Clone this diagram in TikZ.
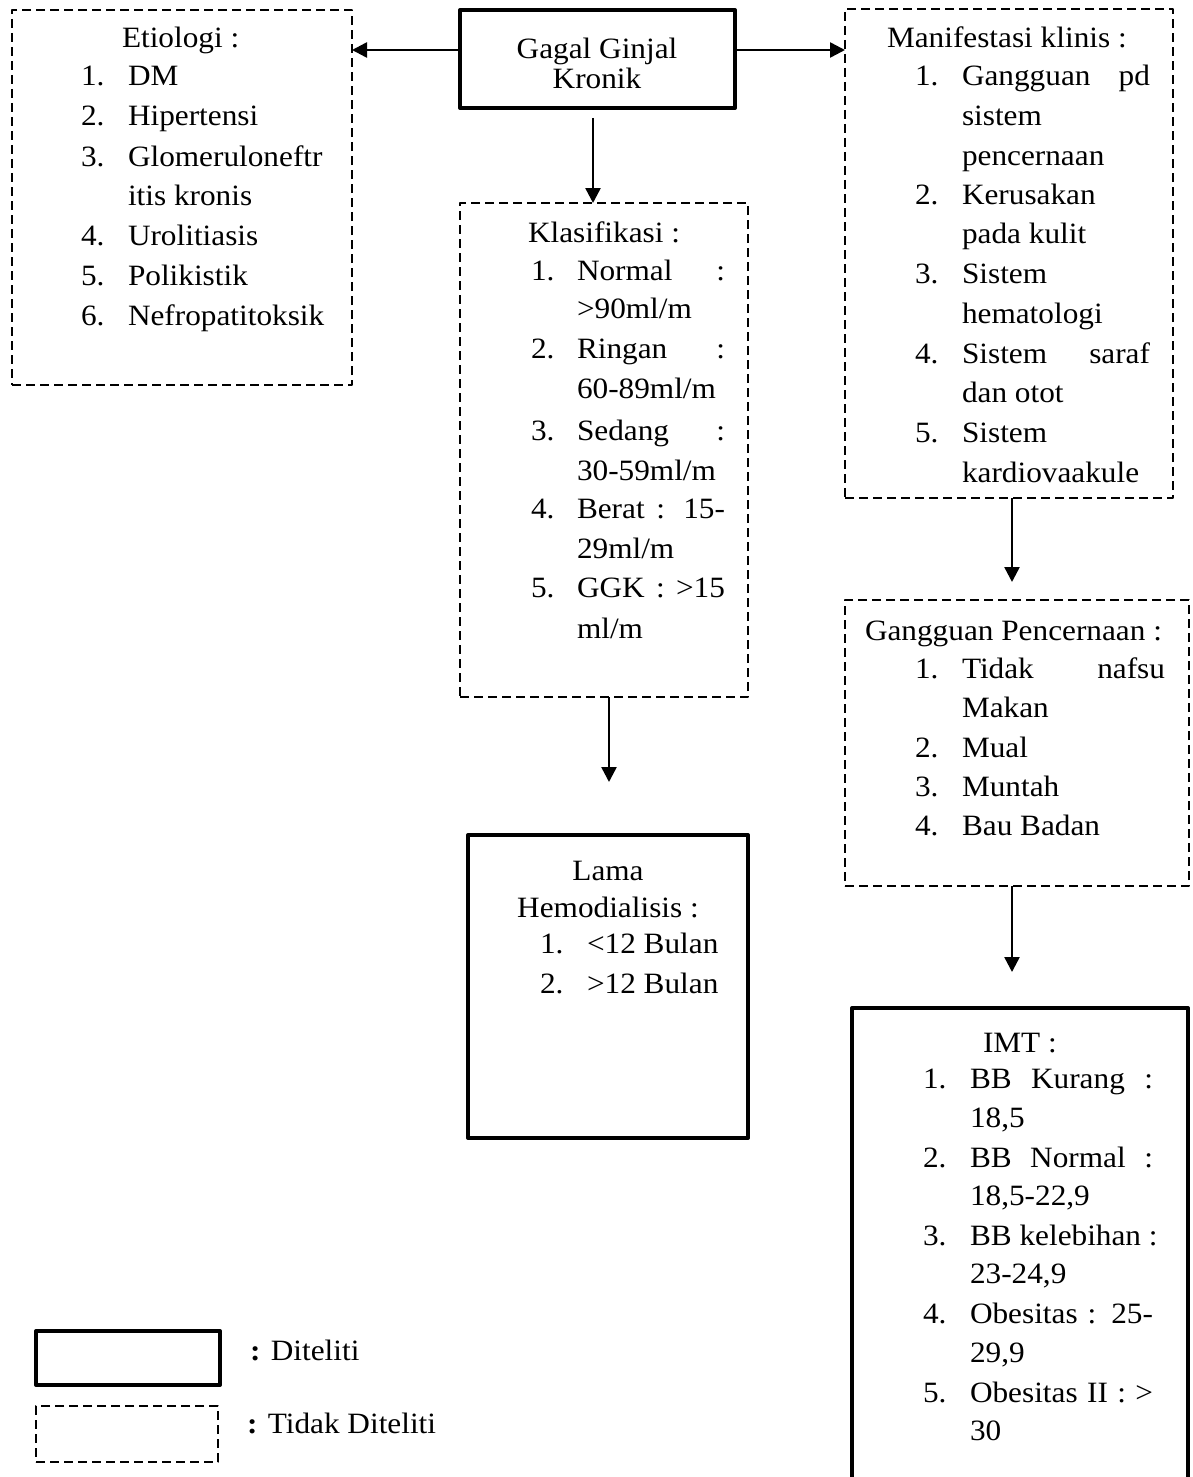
\documentclass[tikz,border=0pt]{standalone}
\usepackage{fontspec}
\setmainfont{Liberation Serif}[FakeStretch=1.06]
\usetikzlibrary{arrows.meta}
\newcommand\jst[2]{\makebox[#1pt][s]{#2}}
\newcommand\itm[6]{\node[txt] (#1n) at (#2,#4) {#5.}; \node[txt] (#1) at (#3,#4) {#6};}
\newcommand\cnt[4]{\node[txt] (#1) at (#2,#3) {#4};}
\begin{document}
\begin{tikzpicture}[x=1pt,y=-1pt,
  txt/.style={inner sep=0pt, outer sep=0pt, font=\fontsize{29.5}{40}\selectfont, anchor=base west},
  ctxt/.style={txt, anchor=base},
  dbox/.style={draw, line width=2.5pt, dash pattern=on 9pt off 5pt, line join=round, inner sep=0pt, outer sep=0pt},
  sbox/.style={draw, line width=4pt, line join=round, inner sep=0pt, outer sep=0pt},
  arr/.style={line width=2.5pt, -{Triangle[length=15pt,width=15pt]}}
]
\useasboundingbox (0,0) rectangle (1193,1477);

% boxes
\node[dbox, minimum width=340pt, minimum height=375pt] (etio) at (182,197.5) {};
\node[sbox, minimum width=275pt, minimum height=98pt] (ggk) at (597.5,59) {};
\node[dbox, minimum width=328pt, minimum height=489pt] (mani) at (1009,253.5) {};
\node[dbox, minimum width=288pt, minimum height=494pt] (klas) at (604,450) {};
\node[sbox, minimum width=280pt, minimum height=303pt] (lama) at (608,986.5) {};
\node[dbox, minimum width=344pt, minimum height=286pt] (gang) at (1017,743) {};
\node[sbox, minimum width=336pt, minimum height=500pt] (imt) at (1020,1258) {};
\node[sbox, minimum width=184pt, minimum height=54pt] (leg1) at (128,1358) {};
\node[dbox, minimum width=182pt, minimum height=56pt] (leg2) at (127,1434) {};

% Gagal Ginjal Kronik
\node[ctxt] (g1) at (597,59) {Gagal Ginjal};
\node[ctxt] (g2) at (597,89) {Kronik};

% Etiologi
\cnt{etT}{122}{48}{Etiologi :}
\itm{et1}{81}{128}{86}{1}{DM}
\itm{et2}{81}{128}{126}{2}{Hipertensi}
\itm{et3}{81}{128}{166}{3}{Glomeruloneftr}
\cnt{et3b}{128}{205}{itis kronis}
\itm{et4}{81}{128}{245}{4}{Urolitiasis}
\itm{et5}{81}{128}{285}{5}{Polikistik}
\itm{et6}{81}{128}{325}{6}{Nefropatitoksik}

% Manifestasi klinis
\cnt{mT}{887}{48}{Manifestasi klinis :}
\itm{m1}{915}{962}{86}{1}{\jst{188}{Gangguan pd}}
\cnt{m1b}{962}{125}{sistem}
\cnt{m1c}{962}{165}{pencernaan}
\itm{m2}{915}{962}{204}{2}{Kerusakan}
\cnt{m2b}{962}{243}{pada kulit}
\itm{m3}{915}{962}{283}{3}{Sistem}
\cnt{m3b}{962}{323}{hematologi}
\itm{m4}{915}{962}{363}{4}{\jst{188}{Sistem saraf}}
\cnt{m4b}{962}{402}{dan otot}
\itm{m5}{915}{962}{442}{5}{Sistem}
\cnt{m5b}{962}{482}{kardiovaakule}

% Klasifikasi
\cnt{kT}{528}{242}{Klasifikasi :}
\itm{k1}{531}{577}{280}{1}{\jst{148}{Normal :}}
\cnt{k1b}{577}{318}{>90ml/m}
\itm{k2}{531}{577}{358}{2}{\jst{148}{Ringan :}}
\cnt{k2b}{577}{398}{60-89ml/m}
\itm{k3}{531}{577}{440}{3}{\jst{148}{Sedang :}}
\cnt{k3b}{577}{480}{30-59ml/m}
\itm{k4}{531}{577}{518}{4}{\jst{148}{Berat : 15-}}
\cnt{k4b}{577}{558}{29ml/m}
\itm{k5}{531}{577}{597}{5}{\jst{148}{GGK : >15}}
\cnt{k5b}{577}{638}{ml/m}

% Lama Hemodialisis
\node[ctxt] (lT1) at (608,880) {Lama};
\node[ctxt] (lT2) at (608,917) {Hemodialisis :};
\itm{l1}{540}{587}{953}{1}{<12 Bulan}
\itm{l2}{540}{587}{993}{2}{>12 Bulan}

% Gangguan Pencernaan
\cnt{gT}{865}{640}{Gangguan Pencernaan :}
\itm{gp1}{915}{962}{678}{1}{\jst{203}{Tidak nafsu}}
\cnt{gp1b}{962}{717}{Makan}
\itm{gp2}{915}{962}{757}{2}{Mual}
\itm{gp3}{915}{962}{796}{3}{Muntah}
\itm{gp4}{915}{962}{835}{4}{Bau Badan}

% IMT
\cnt{iT}{983}{1052}{IMT :}
\itm{i1}{923}{970}{1088}{1}{\jst{183}{BB Kurang :}}
\cnt{i1b}{970}{1127}{18,5}
\itm{i2}{923}{970}{1167}{2}{\jst{183}{BB Normal :}}
\cnt{i2b}{970}{1205}{18,5-22,9}
\itm{i3}{923}{970}{1245}{3}{BB kelebihan :}
\cnt{i3b}{970}{1283}{23-24,9}
\itm{i4}{923}{970}{1323}{4}{\jst{183}{Obesitas : 25-}}
\cnt{i4b}{970}{1362}{29,9}
\itm{i5}{923}{970}{1402}{5}{\jst{183}{Obesitas II : >}}
\cnt{i5b}{970}{1440}{30}

% legend
\cnt{lg1}{250}{1360}{\textbf{:} Diteliti}
\cnt{lg2}{247}{1433}{\textbf{:} Tidak Diteliti}

% arrows
\draw[arr] (ggk.west |- 0,50) -- (etio.east |- 0,50);
\draw[arr] (ggk.east |- 0,50) -- (mani.west |- 0,50);
\draw[arr, shorten <=10pt] (ggk.south -| 593,0) -- (klas.north -| 593,0);
\draw[arr, shorten >=53pt] (klas.south -| 609,0) -- (lama.north -| 609,0);
\draw[arr, shorten >=18pt] (mani.south -| 1012,0) -- (gang.north -| 1012,0);
\draw[arr, shorten >=36pt] (gang.south -| 1012,0) -- (imt.north -| 1012,0);
\end{tikzpicture}
\end{document}
